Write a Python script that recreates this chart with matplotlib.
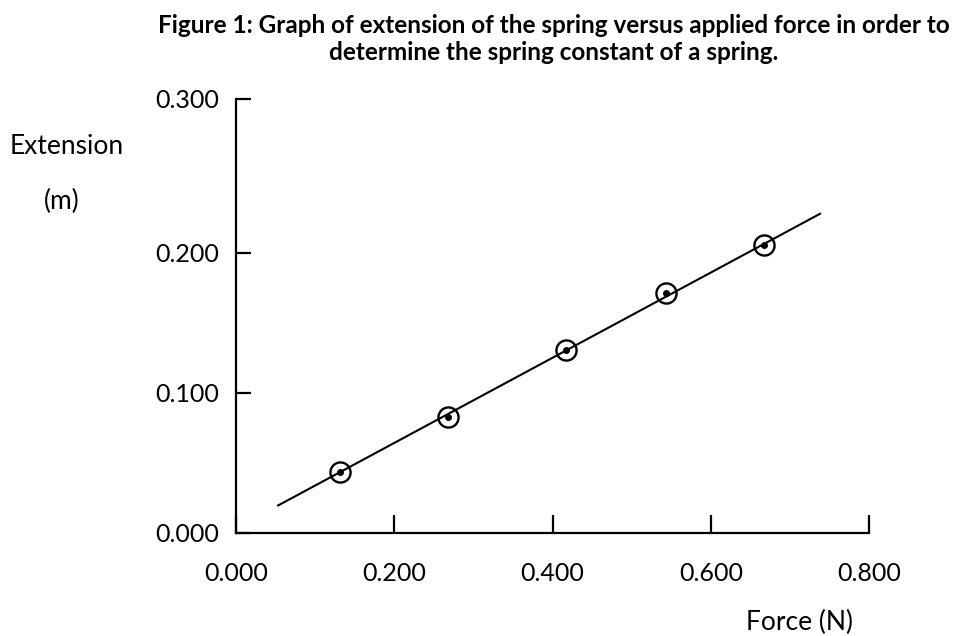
import matplotlib
matplotlib.use("Agg")
import matplotlib.pyplot as plt

# Data
force = [0.131, 0.268, 0.417, 0.543, 0.667]
extension = [0.0438, 0.0831, 0.1307, 0.1712, 0.2057]
fit_force = [0.052, 0.739]
fit_extension = [0.0193, 0.2284]

x_ticks = [0.0, 0.2, 0.4, 0.6, 0.8]
x_tick_labels = ["0.000", "0.200", "0.400", "0.600", "0.800"]
y_ticks = [0.0, 0.1, 0.2, 0.31]
y_tick_labels = ["0.000", "0.100", "0.200", "0.300"]

title = ("Figure 1: Graph of extension of the spring versus applied force in order to\n"
         "determine the spring constant of a spring.")

W, H = 967, 636
fig = plt.figure(figsize=(W / 100, H / 100), dpi=100)
font = "Lato"

ax = fig.add_axes([236 / W, 1 - 533 / H, (869.3 - 236) / W, (533 - 99) / H])
ax.set_xlim(0, 0.8)
ax.set_ylim(0, 0.31)

ax.plot(fit_force, fit_extension, color="black", lw=1.5, solid_capstyle="butt")
ax.plot(force, extension, linestyle="none", marker="o", markersize=14.5,
        markerfacecolor="none", markeredgecolor="black", markeredgewidth=1.7)
ax.plot(force, extension, linestyle="none", marker="o", markersize=4.0,
        color="black")

for s in ["top", "right"]:
    ax.spines[s].set_visible(False)
for s in ["left", "bottom"]:
    ax.spines[s].set_linewidth(1.6)

ax.set_xticks(x_ticks)
ax.set_xticklabels(x_tick_labels, fontfamily=font, fontsize=18)
ax.set_yticks(y_ticks)
ax.set_yticklabels(y_tick_labels, fontfamily=font, fontsize=18)
ax.tick_params(axis="x", direction="in", length=13, width=1.6, pad=21)
ax.tick_params(axis="y", direction="in", length=10.5, width=1.6, pad=12)
for t in ax.xaxis.get_major_ticks() + ax.yaxis.get_major_ticks():
    t.tick1line.set_clip_on(False)

fig.text(554 / W, 1 - 39 / H, title, ha="center", va="center", fontfamily=font,
         fontweight="bold", fontsize=17.5, linespacing=1.25)
fig.text(67 / W, 1 - 146 / H, "Extension", ha="center", va="center",
         fontfamily=font, fontsize=19)
fig.text(62 / W, 1 - 201 / H, "(m)", ha="center", va="center",
         fontfamily=font, fontsize=19)
fig.text(799 / W, 1 - 622 / H, "Force (N)", ha="center", va="center",
         fontfamily=font, fontsize=19)

fig.savefig("out.png", dpi=100, facecolor="white")
